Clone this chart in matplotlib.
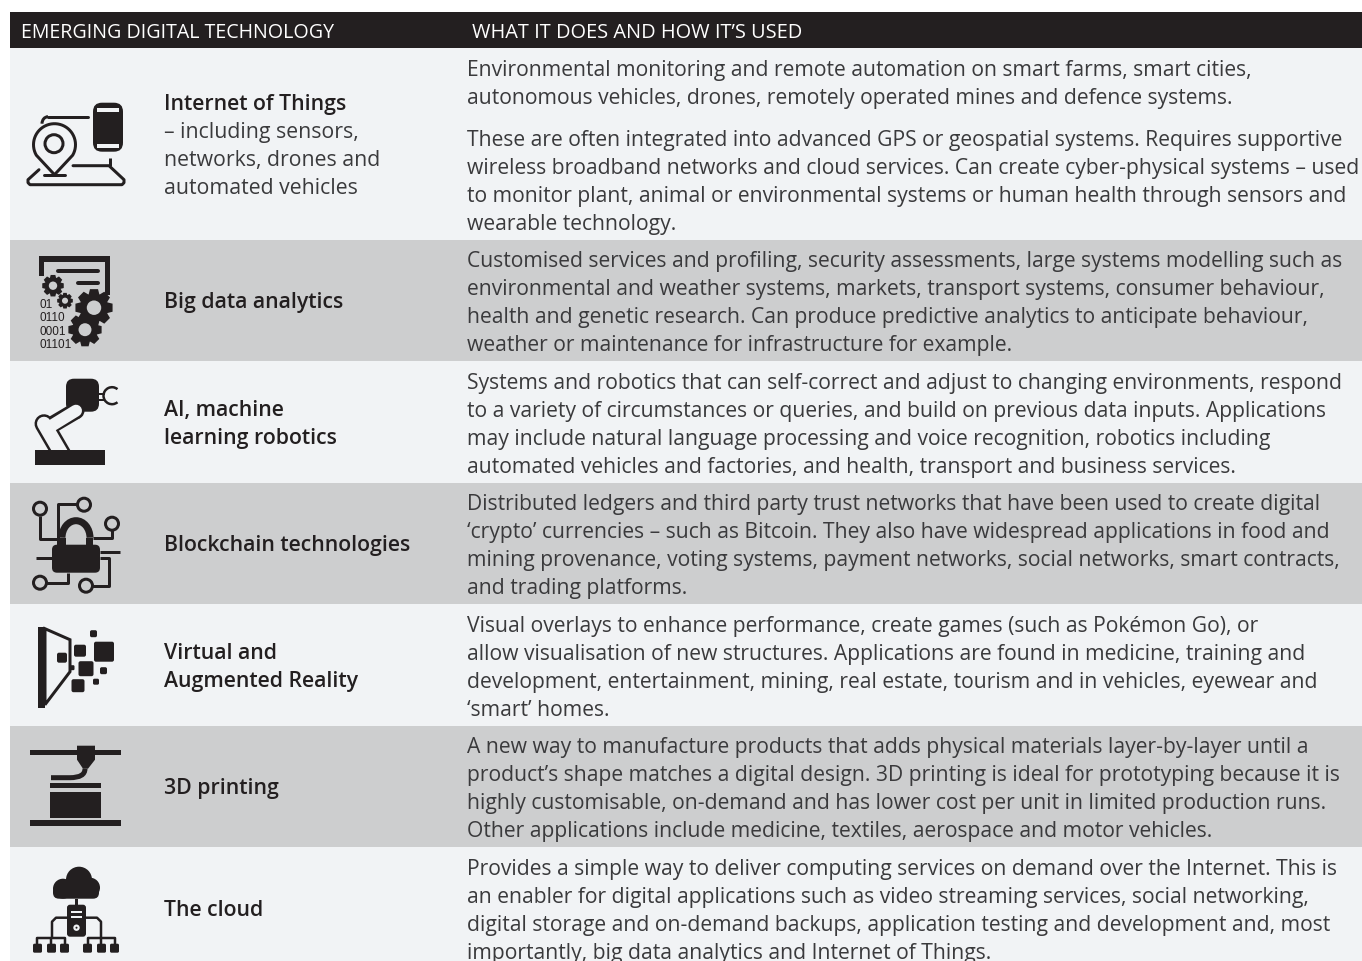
import numpy as np
import matplotlib
matplotlib.use('Agg')
import matplotlib.pyplot as plt
from matplotlib.patches import Rectangle, FancyBboxPatch, Circle, Polygon, PathPatch, Arc
from matplotlib.path import Path

plt.rcParams['font.family'] = ['Open Sans', 'DejaVu Sans']

# Table content
header_left = 'EMERGING DIGITAL TECHNOLOGY'
header_right = 'WHAT IT DOES AND HOW IT\u2019S USED'

row_edges = [48, 240, 361, 483, 604, 726, 847, 963]

label_bold = [
    ['Internet of Things'],
    ['Big data analytics'],
    ['AI, machine', 'learning robotics'],
    ['Blockchain technologies'],
    ['Virtual and', 'Augmented Reality'],
    ['3D printing'],
    ['The cloud'],
]
label_plain = ['\u2013 including sensors,', 'networks, drones and', 'automated vehicles']
label_first_y = [109, 307, 415, 550, 658, 793, 915]

body_lines = [
    ['Environmental monitoring and remote automation on smart farms, smart cities,',
     'autonomous vehicles, drones, remotely operated mines and defence systems.',
     'These are often integrated into advanced GPS or geospatial systems. Requires supportive',
     'wireless broadband networks and cloud services. Can create cyber-physical systems \u2013 used',
     'to monitor plant, animal or environmental systems or human health through sensors and',
     'wearable technology.'],
    ['Customised services and profiling, security assessments, large systems modelling such as',
     'environmental and weather systems, markets, transport systems, consumer behaviour,',
     'health and genetic research. Can produce predictive analytics to anticipate behaviour,',
     'weather or maintenance for infrastructure for example.'],
    ['Systems and robotics that can self-correct and adjust to changing environments, respond',
     'to a variety of circumstances or queries, and build on previous data inputs. Applications',
     'may include natural language processing and voice recognition, robotics including',
     'automated vehicles and factories, and health, transport and business services.'],
    ['Distributed ledgers and third party trust networks that have been used to create digital',
     '\u2018crypto\u2019 currencies \u2013 such as Bitcoin. They also have widespread applications in food and',
     'mining provenance, voting systems, payment networks, social networks, smart contracts,',
     'and trading platforms.'],
    ['Visual overlays to enhance performance, create games (such as Pok\u00e9mon Go), or',
     'allow visualisation of new structures. Applications are found in medicine, training and',
     'development, entertainment, mining, real estate, tourism and in vehicles, eyewear and',
     '\u2018smart\u2019 homes.'],
    ['A new way to manufacture products that adds physical materials layer-by-layer until a',
     'product\u2019s shape matches a digital design. 3D printing is ideal for prototyping because it is',
     'highly customisable, on-demand and has lower cost per unit in limited production runs.',
     'Other applications include medicine, textiles, aerospace and motor vehicles.'],
    ['Provides a simple way to deliver computing services on demand over the Internet. This is',
     'an enabler for digital applications such as video streaming services, social networking,',
     'digital storage and on-demand backups, application testing and development and, most',
     'importantly, big data analytics and Internet of Things.'],
]
body_y = [
    [75, 103, 145, 173, 201, 229],
    [266, 294, 322, 350],
    [388, 416, 444, 472],
    [509, 537, 565, 593],
    [631, 659, 687, 715],
    [752, 780, 808, 836],
    [874, 902, 930, 958],
]
binary_labels = ['01', '0110', '0001', '01101']

LIGHT = '#f1f3f5'
DARK = '#cdcecf'
INK = '#231f20'
TEXT = '#3a3a3c'

fig = plt.figure(figsize=(13.62, 9.62), dpi=100)
ax = fig.add_axes([0, 0, 1, 1])
ax.set_xlim(0, 1362)
ax.set_ylim(961.3, -0.7)
ax.axis('off')


def pt(px):
    return px * 0.72


def line(xs, ys, w=3, c=INK, cap='butt', z=3):
    ax.plot(xs, ys, color=c, lw=pt(w), solid_capstyle=cap, solid_joinstyle='round', zorder=z)


def rbox(x0, y0, x1, y1, r=2, fc=INK, ec='none', lw=0, z=3):
    ax.add_patch(FancyBboxPatch((x0 + r, y0 + r), x1 - x0 - 2 * r, y1 - y0 - 2 * r,
                                boxstyle='round,pad=%f,rounding_size=%f' % (r, r),
                                fc=fc, ec=ec, lw=lw, zorder=z))


def rect(x0, y0, x1, y1, fc=INK, z=3):
    ax.add_patch(Rectangle((x0, y0), x1 - x0, y1 - y0, fc=fc, ec='none', zorder=z))


def ring(x, y, r, w, fc='none', z=3):
    ax.add_patch(Circle((x, y), r, fc=fc, ec=INK, lw=pt(w), zorder=z))


def gear(x, y, r, bg, teeth=8):
    # gear outline with square teeth
    pts = []
    step = 2 * np.pi / teeth
    for i in range(teeth):
        a = i * step
        for da, rr in [(-0.30, 0.76), (-0.17, 1.0), (0.17, 1.0), (0.30, 0.76)]:
            t = a + da * step * 1.6
            pts.append((x + rr * r * np.cos(t), y + rr * r * np.sin(t)))
    ax.add_patch(Polygon(pts, closed=True, fc=INK, ec='none', zorder=3))
    ax.add_patch(Circle((x, y), r * 0.38, fc=bg, ec='none', zorder=4))


# Row bands and header
rect(10, 12, 1362, 48, fc=INK, z=1)
for i in range(7):
    rect(10, row_edges[i], 1362, row_edges[i + 1], fc=LIGHT if i % 2 == 0 else DARK, z=1)

ax.text(21, 37, header_left, color='white', fontsize=14.15, va='baseline', zorder=5)
ax.text(472, 37, header_right, color='white', fontsize=14.4, va='baseline', zorder=5)

# Text columns
for i in range(7):
    y = label_first_y[i]
    for s in label_bold[i]:
        ax.text(164, y, s, color=INK, fontsize=15.3, fontweight='semibold', va='baseline', zorder=5)
        y += 28
    if i == 0:
        for s in label_plain:
            ax.text(164, y, s, color=TEXT, fontsize=15.3, va='baseline', zorder=5)
            y += 28
    for s, yy in zip(body_lines[i], body_y[i]):
        ax.text(467, yy, s, color=TEXT, fontsize=15.25, va='baseline', zorder=5)

# Icon 1: internet of things
rbox(93, 103, 123, 152, r=9)
rect(97, 108, 119, 112, fc=LIGHT, z=4)
rect(97, 144, 119, 148, fc=LIGHT, z=4)
line([48, 88], [117, 117], w=3, cap='round')
ax.add_patch(Arc((48, 124), 12, 14, theta1=180, theta2=270, color=INK, lw=pt(3), zorder=3))
t = np.radians(np.linspace(150, 390, 40))
pin_x = list(54.5 + 21 * np.cos(t)) + [54.5]
pin_y = list(145 + 21 * np.sin(t)) + [175]
ax.add_patch(Polygon(np.column_stack([pin_x, pin_y]), closed=True, fc='none', ec=INK, lw=pt(3),
                     joinstyle='round', zorder=3))
ring(54, 144, 9, 3)
line([44, 65], [175, 175], w=3, cap='round')
line([39, 28, 28, 30, 122, 124, 124, 109, 73], [170, 180, 183, 185, 185, 183, 180, 166, 166], w=3, cap='round')
line([109.5, 109.5], [158, 166], w=3)

# Icon 2: big data
bg = DARK
rect(39, 256, 110, 262)
rect(39, 256, 44, 276)
rect(105, 256, 110, 295)
line([58, 98], [271, 271], w=4, cap='round')
line([78, 98], [283, 283], w=4, cap='round')
gear(53, 286, 11, bg)
gear(65, 301, 8, bg)
gear(94, 308, 19, bg)
gear(85, 330, 17, bg)
for s, yy in zip(binary_labels, [307, 320, 334, 347]):
    ax.text(40, yy, s, color=INK, fontsize=8.5, family='Liberation Sans', va='baseline', zorder=5)

# Icon 3: robot arm
bg = LIGHT
line([44, 62], [424, 455], w=19, c=INK, cap='round', z=3)
line([44, 62], [424, 455], w=14, c=bg, cap='round', z=3.1)
rect(35, 450, 105, 465, z=3.2)
rbox(66, 379, 99, 412, r=8, z=3.3)
line([54, 76], [424, 411], w=17, c=INK, cap='butt', z=3.4)
ax.add_patch(Circle((76, 411), 8.5, fc=INK, ec='none', zorder=3.4))
line([50, 76], [427, 411], w=12, c=bg, cap='round', z=3.5)
line([99, 105], [394, 394], w=2)
line([99, 105], [400, 400], w=2)
ax.add_patch(Arc((112, 396), 17, 17, theta1=50, theta2=310, color=INK, lw=pt(2.5), zorder=3))

# Icon 4: blockchain
rbox(52, 545, 100, 573, r=5, z=3)
ax.add_patch(Arc((76, 538), 28, 34, theta1=180, theta2=360, color=INK, lw=pt(7), zorder=3))
rect(59, 538, 66, 546)
rect(86, 538, 93, 546)
line([40, 40, 58], [516, 539, 539], w=3)
line([58, 58, 78], [545, 504, 504], w=3)
line([112, 112, 93], [530, 538, 538], w=3)
line([36, 52], [558, 558], w=3)
line([100, 120], [552, 552], w=3)
line([68, 68, 46], [573, 583, 583], w=3)
line([100, 109, 109, 92], [558, 558, 586, 586], w=3)
for cx, cy in [(40, 509), (84, 505), (112, 524), (40, 583), (86, 586)]:
    ring(cx, cy, 6.5, 3, fc=DARK, z=4)

# Icon 5: VR
rect(38, 627, 45, 708)
ax.add_patch(Polygon([(45, 629), (70, 640), (70, 672), (45, 705)], closed=True, fc='none', ec=INK, lw=pt(3), zorder=3))
vr_squares = [(93.5, 634, 7), (80, 651, 12), (104, 652, 20), (62, 658, 10), (86, 669, 15),
              (103.5, 671, 7), (78, 686, 13), (96, 682, 6), (72, 668, 5)]
for cx, cy, s in vr_squares:
    rbox(cx - s / 2, cy - s / 2, cx + s / 2, cy + s / 2, r=min(2, s / 4), z=4)

# Icon 6: 3D printer
rect(30, 750, 121, 755.5)
ax.add_patch(Polygon([(77, 746), (95, 746), (95, 760), (88, 769), (83, 769), (77, 760)], closed=True, fc=INK, ec='none', zorder=3))
verts = [(51, 778), (70, 778), (85, 778), (85, 769)]
ax.add_patch(PathPatch(Path(verts, [Path.MOVETO, Path.LINETO, Path.CURVE3, Path.CURVE3]), fc='none', ec=INK, lw=pt(5), zorder=3))
rect(50, 783, 101, 788.5)
rect(50, 792, 101, 818)
rect(30, 820, 121, 826)

# Icon 7: cloud
for cx, cy, rx in [(63, 889, 10), (90, 888, 10), (79, 880, 13)]:
    ax.add_patch(Circle((cx, cy), rx, fc=INK, ec='none', zorder=3))
rbox(53, 886, 99, 899, r=6)
rect(75, 899, 77.5, 905)
rbox(67, 905, 86, 937, r=3)
rect(71, 911, 82, 913.5, fc=LIGHT, z=4)
rect(71, 916, 82, 918.5, fc=LIGHT, z=4)
ax.add_patch(Circle((76.5, 928), 3.2, fc=LIGHT, ec='none', zorder=4))
ax.add_patch(Circle((76.5, 928), 1, fc=INK, ec='none', zorder=5))
line([67, 56, 52, 52], [918, 918, 922, 938], w=2.5)
line([86, 97, 101, 101], [918, 918, 922, 938], w=2.5)
line([37, 37, 65, 65], [945, 938, 938, 945], w=2.5)
line([51, 51], [938, 945], w=2.5)
line([87.5, 87.5, 114.5, 114.5], [945, 938, 938, 945], w=2.5)
line([101, 101], [938, 945], w=2.5)
for x0 in [33, 47, 60, 83, 97, 110]:
    rbox(x0, 944, x0 + 9, 953, r=1.5)

fig.savefig('out.png', dpi=100)
